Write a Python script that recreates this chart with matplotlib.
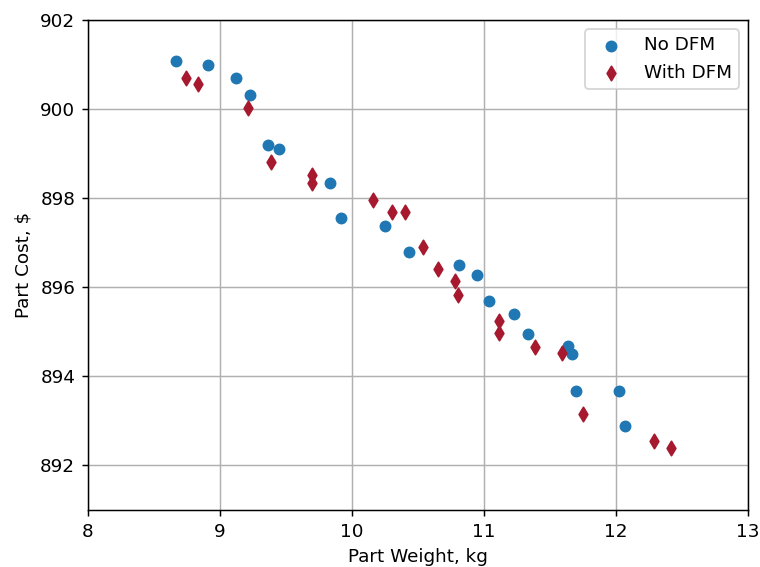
import matplotlib
matplotlib.use("Agg")
from matplotlib import pyplot as plt

# part weight (kg) and cost ($) without DFM
noDfmWeight = [8.67, 8.91, 9.12, 9.23, 9.36, 9.45, 9.83, 9.92, 10.25, 10.43,
               10.81, 10.95, 11.04, 11.23, 11.33, 11.64, 11.67, 11.70, 12.02, 12.07]
noDfmCost = [901.08, 900.99, 900.70, 900.32, 899.20, 899.11, 898.35, 897.55, 897.37, 896.79,
             896.50, 896.27, 895.69, 895.40, 894.95, 894.68, 894.51, 893.68, 893.68, 892.89]

# with DFM
dfmWeight = [8.74, 8.83, 9.21, 9.39, 9.70, 9.70, 10.16, 10.30, 10.40, 10.54,
             10.65, 10.78, 10.80, 11.11, 11.11, 11.39, 11.59, 11.75, 12.29, 12.42]
dfmCost = [900.70, 900.57, 900.03, 898.82, 898.53, 898.35, 897.95, 897.70, 897.68, 896.90,
           896.41, 896.14, 895.83, 895.24, 894.98, 894.66, 894.53, 893.16, 892.56, 892.40]

dpi = 132
fig = plt.figure(figsize=(760 / dpi, 567 / dpi), dpi=dpi)
ax = fig.add_axes([88 / 760, 1 - 510 / 567, 660 / 760, 490 / 567])

ax.scatter(noDfmWeight, noDfmCost, color='#1f77b4', marker='o', s=30, label='No DFM', zorder=3)
ax.scatter(dfmWeight, dfmCost, color='#a6192e', marker='d', s=30, label='With DFM', zorder=3)

ax.set_xlim(8, 13)
ax.set_ylim(891, 902)
ax.set_yticks([892, 894, 896, 898, 900, 902])
ax.set_xlabel('Part Weight, kg')
ax.set_ylabel('Part Cost, $')
ax.grid(True)
ax.legend(loc='upper right')

fig.savefig('out.png', dpi=dpi)
